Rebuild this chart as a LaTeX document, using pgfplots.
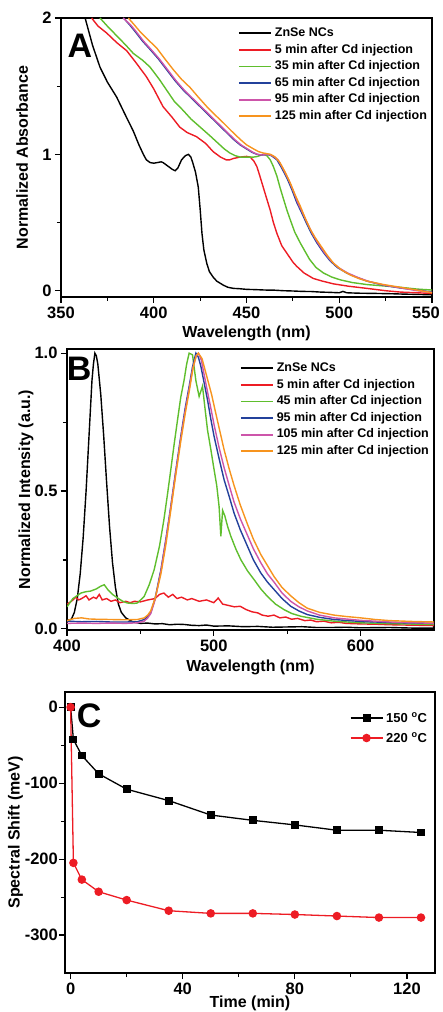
\documentclass[border=0pt]{standalone}
\usepackage{fontspec}
\setmainfont{Liberation Sans}
\usepackage{pgfplots}
\pgfplotsset{compat=1.18}

\definecolor{cred}{RGB}{237,28,36}
\definecolor{cgreen}{RGB}{95,190,45}
\definecolor{cblue}{RGB}{35,65,155}
\definecolor{cmag}{RGB}{205,85,170}
\definecolor{corange}{RGB}{247,148,30}

\pgfplotsset{
  panel/.style={
    scale only axis,
    axis line style={line width=1.3pt},
    every tick/.style={black, line width=1.1pt},
    tick align=outside,
    xtick pos=bottom, ytick pos=left,
    major tick length=6pt, minor tick length=4pt,
    ticklabel style={font=\bfseries\fontsize{16.5}{17}\selectfont},
    label style={font=\bfseries\fontsize{16}{17}\selectfont},
    legend cell align=left,
    every axis plot/.append style={line width=1.4pt},
  },
  lineleg/.style={
    legend image code/.code={\draw[##1, line width=1.9pt] (0pt,0pt) -- (32pt,0pt);},
    legend style={draw=none, fill=none, inner sep=0pt, outer sep=0pt,
      row sep=0pt, column sep=3pt,
      nodes={inner sep=0pt, text height=11.6pt, text depth=5pt,
        font=\bfseries\fontsize{12.5}{13}\selectfont}},
  },
}

\begin{document}
\begin{tikzpicture}
\useasboundingbox (0,0) rectangle (442pt,1012pt);

% ---------- panel A ----------
\begin{axis}[panel, lineleg,
  at={(61pt,715pt)}, anchor=south west,
  width=371pt, height=279pt,
  xmin=350, xmax=550, ymin=-0.046, ymax=2,
  xtick={350,400,450,500,550},
  xticklabels={350,400,450,500,\makebox[0pt]{\hspace{-12pt}550}},
  minor xtick={375,425,475,525},
  ytick={0,1,2}, yticklabels={0,1,2},
  minor ytick={0.5,1.5},
  xlabel={Wavelength (nm)}, ylabel={Normalized Absorbance},
  xlabel style={at={(axis description cs:0.5,-0.129)}, anchor=center},
  ylabel style={at={(axis description cs:-0.105,0.5)}, anchor=center},
  legend style={at={(axis description cs:0.477,0.975)}, anchor=north west},
]
\addplot[black] coordinates {
(363,2.0)(367,1.8)(371,1.64)(375,1.53)(380,1.42)(385,1.28)(389,1.17)(392,1.07)
(394.4,1.0)(396,0.96)(398,0.94)(400,0.935)(402,0.94)(404,0.945)(405,0.94)(406.5,0.925)
(408,0.91)(410,0.89)(411.5,0.88)(413,0.9)(415,0.96)(417,0.99)(418.7,1.0)(420,0.98)
(421,0.94)(422.5,0.87)(424,0.76)(425,0.6)(426,0.42)(427,0.3)(428.6,0.2)(430,0.14)
(432,0.1)(434,0.07)(437.6,0.04)(440,0.025)(443,0.017)(446,0.015)(450,0.01)(455,0.008)
(460,0.005)(465,0.004)(470,0.0)(475,-0.002)(480,-0.005)(485,-0.006)(490,-0.01)
(495,-0.012)(500,-0.015)(502,-0.005)(504,-0.015)(510,-0.018)(520,-0.02)(528,-0.022)
(535,-0.025)(542,-0.027)(550,-0.03)};
\addplot[cred] coordinates {
(366.5,2.0)(370,1.94)(374.6,1.89)(380,1.82)(385.4,1.76)(390,1.68)(396,1.57)(400,1.48)
(405,1.35)(410,1.27)(414,1.2)(418,1.16)(423,1.13)(428,1.08)(432,1.02)(436,0.98)
(439,0.96)(441,0.96)(443,0.97)(446.6,0.98)(450,0.985)(452,0.98)(454,0.95)(455.6,0.91)
(457,0.85)(459,0.76)(461,0.67)(462.8,0.59)(464.5,0.5)(466.4,0.42)(469,0.33)(472,0.27)
(475,0.21)(477,0.18)(481,0.13)(486,0.09)(491,0.07)(497,0.05)(505,0.033)(515,0.017)
(525,0.0)(533,-0.01)(542,-0.015)(550,-0.02)};
\addplot[cgreen] coordinates {
(371,2.0)(375,1.94)(380,1.87)(385,1.8)(389,1.74)(394,1.69)(398,1.64)(403,1.55)
(407,1.47)(411,1.39)(416,1.32)(420,1.26)(425,1.2)(430,1.14)(434,1.09)(438,1.04)
(441,1.01)(444,0.99)(446.6,0.98)(450,0.98)(453.8,0.98)(456,0.985)(459,1.0)(461,0.99)
(462.8,0.96)(464.5,0.91)(466.4,0.84)(468,0.76)(470,0.67)(471.8,0.59)(473.6,0.52)
(476,0.43)(479,0.35)(481.5,0.29)(484,0.23)(487.5,0.17)(491.5,0.13)(496,0.1)
(500.5,0.08)(507,0.06)(515,0.045)(524,0.035)(533,0.025)(542,0.012)(550,0.005)};
\addplot[cblue] coordinates {
(383.7,2.0)(387,1.95)(390,1.9)(394,1.83)(398,1.77)(402.5,1.7)(407,1.62)(411.5,1.54)
(416,1.47)(420.5,1.41)(425,1.35)(429.5,1.29)(434,1.23)(438.5,1.17)(443,1.11)
(446.5,1.07)(450,1.04)(453,1.015)(455.6,1.0)(458,0.995)(461,1.0)(463.5,0.99)
(466.4,0.96)(469,0.9)(472,0.82)(474.5,0.74)(477,0.65)(479.8,0.57)(482.5,0.49)
(485,0.42)(488,0.35)(491.5,0.28)(495,0.22)(499,0.17)(504,0.13)(509,0.1)(515,0.07)
(524,0.04)(533,0.02)(542,0.005)(550,-0.01)};
\addplot[cmag] coordinates {
(383.5,2.0)(387.5,1.95)(390.5,1.9)(394.5,1.83)(398.5,1.77)(403,1.7)(407.5,1.62)(412,1.54)
(416.5,1.47)(421,1.41)(425.5,1.35)(430,1.29)(434.5,1.23)(439,1.17)(443.5,1.11)
(447,1.07)(450.5,1.04)(453.5,1.015)(456,1.0)(458.5,0.995)(461.5,1.0)(464,0.99)
(467,0.96)(469.5,0.9)(472.5,0.82)(475,0.74)(477.5,0.65)(480.3,0.57)(483,0.49)
(485.5,0.42)(488.5,0.35)(492,0.28)(495.5,0.22)(499.5,0.17)(504.5,0.13)(509.5,0.1)
(515.5,0.07)(524.5,0.04)(533.5,0.02)(542,0.0)(550,-0.012)};
\addplot[corange] coordinates {
(386.3,2.0)(389.5,1.95)(392.6,1.9)(397,1.84)(401.6,1.78)(406,1.7)(410.6,1.62)(415,1.55)
(419.6,1.49)(424,1.42)(428.6,1.35)(433,1.29)(437.6,1.23)(442,1.17)(446.6,1.11)
(450,1.07)(453.8,1.04)(456.5,1.02)(459,1.01)(461,1.005)(463,1.0)(465.5,0.98)
(468,0.94)(470.8,0.87)(473.6,0.79)(476.3,0.7)(479,0.62)(481.7,0.53)(484.4,0.45)
(487,0.39)(490,0.33)(493.5,0.26)(497,0.2)(501.5,0.15)(506,0.115)(510.5,0.09)
(515,0.07)(524,0.045)(533,0.025)(542,0.005)(550,-0.015)};
\legend{ZnSe NCs, 5 min after Cd injection, 35 min after Cd injection,
  65 min after Cd injection, 95 min after Cd injection, 125 min after Cd injection}
\node[font=\bfseries\fontsize{34}{34}\selectfont, anchor=center]
  at (axis description cs:0.051,0.9) {A};
\end{axis}

% ---------- panel B ----------
\begin{axis}[panel, lineleg,
  at={(67pt,382pt)}, anchor=south west,
  width=367pt, height=281pt,
  xmin=400, xmax=650, ymin=-0.004, ymax=1.015,
  xtick={400,500,600}, xticklabels={400,500,600},
  minor xtick={450,550},
  ytick={0,0.5,1}, yticklabels={0.0,0.5,1.0},
  minor ytick={0.25,0.75},
  xlabel={Wavelength (nm)}, ylabel={Normalized Intensity (a.u.)},
  xlabel style={at={(axis description cs:0.5,-0.132)}, anchor=center},
  ylabel style={at={(axis description cs:-0.112,0.5)}, anchor=center},
  legend style={at={(axis description cs:0.471,0.961)}, anchor=north west},
]
\addplot[black] coordinates {
(400,0.03)(403,0.035)(405,0.06)(407,0.11)(409,0.2)(411,0.33)(413,0.5)(415,0.7)
(417,0.9)(418,0.96)(419,1.0)(420,0.99)(421,0.96)(423,0.85)(425,0.7)(427,0.53)
(429,0.37)(431,0.24)(433,0.15)(435,0.09)(437,0.06)(440,0.04)(445,0.025)(450,0.02)
(455,0.021)(460,0.018)(465,0.019)(470,0.015)(475,0.017)(480,0.016)(485,0.013)
(490,0.012)(495,0.014)(500,0.01)(510,0.011)(520,0.008)(530,0.009)(540,0.006)
(550,0.007)(560,0.008)(570,0.005)(580,0.005)(590,0.006)(600,0.004)(620,0.005)
(635,0.003)(650,0.003)};
\addplot[cred] coordinates {
(400,0.09)(403,0.1)(406,0.115)(408,0.105)(410,0.11)(413,0.12)(415,0.105)(418,0.115)
(420,0.11)(422,0.125)(424,0.105)(427,0.11)(430,0.1)(433,0.105)(436,0.095)(440,0.1)
(443,0.095)(446,0.1)(450,0.098)(455,0.105)(460,0.11)(463,0.125)(466,0.13)(469,0.115)
(472,0.125)(475,0.11)(478,0.115)(482,0.105)(485,0.11)(490,0.1)(495,0.105)(500,0.095)
(503,0.112)(506,0.09)(510,0.085)(514,0.08)(518,0.082)(522,0.07)(526,0.062)(530,0.058)
(533,0.05)(537,0.046)(541,0.05)(545,0.04)(549,0.043)(553,0.035)(557,0.038)(562,0.03)
(566,0.032)(570,0.026)(575,0.028)(580,0.022)(585,0.024)(590,0.02)(600,0.018)
(610,0.017)(620,0.015)(630,0.014)(640,0.013)(650,0.012)};
\addplot[cgreen] coordinates {
(400,0.08)(404,0.11)(409.5,0.13)(413,0.135)(416,0.137)(420,0.145)(423,0.155)
(425.4,0.16)(427.7,0.143)(431,0.125)(434.5,0.112)(438,0.1)(441,0.094)(445,0.092)
(448,0.094)(452.6,0.118)(456,0.16)(459.4,0.215)(463,0.3)(466,0.396)(468.5,0.49)
(470.7,0.577)(473,0.67)(475.3,0.758)(477.5,0.84)(479.8,0.903)(481.5,0.96)(483.2,1.0)
(485.5,0.994)(487.8,0.9)(490,0.843)(492.3,0.88)(494,0.8)(495.7,0.722)(498,0.65)
(500.2,0.577)(502,0.52)(503.6,0.444)(504.8,0.336)(506,0.43)(507.5,0.41)(509.5,0.37)
(511.6,0.336)(515,0.29)(518.4,0.251)(523,0.21)(527.4,0.179)(532,0.145)(536.5,0.118)
(542,0.09)(547.8,0.07)(553,0.056)(559.2,0.046)(570,0.035)(581.9,0.028)(600,0.022)
(620,0.019)(650,0.016)};
\addplot[cblue] coordinates {
(400,0.028)(410,0.026)(420,0.027)(430,0.025)(440,0.025)(448,0.026)(452.6,0.034)
(455,0.045)(457,0.058)(460,0.11)(464,0.215)(467.5,0.33)(470.7,0.444)(474,0.57)
(477.5,0.698)(480.5,0.8)(483.2,0.879)(485.5,0.95)(487.8,1.0)(489.5,0.985)(491.2,0.952)
(493.5,0.89)(495.7,0.831)(498,0.76)(500.2,0.698)(503.5,0.62)(507,0.541)(510.5,0.48)
(513.8,0.42)(518,0.36)(522.9,0.3)(527,0.25)(532,0.203)(536.5,0.17)(541,0.143)
(546.5,0.11)(552.4,0.082)(558,0.065)(563.7,0.052)(572,0.042)(581.9,0.034)(600,0.027)
(620,0.023)(650,0.02)};
\addplot[cmag] coordinates {
(400,0.02)(410,0.021)(420,0.02)(430,0.021)(440,0.02)(448,0.022)(452.6,0.028)
(455,0.04)(457,0.055)(460,0.105)(464,0.21)(467.5,0.325)(470.7,0.44)(474,0.565)
(477.5,0.69)(480.5,0.79)(483.2,0.87)(485.5,0.94)(488,0.99)(489.5,1.0)(491.5,0.975)
(493.5,0.92)(495.7,0.86)(498,0.8)(500.2,0.74)(503.5,0.66)(507,0.585)(510.5,0.52)
(513.8,0.46)(518,0.4)(522.9,0.34)(527,0.29)(532,0.24)(536.5,0.2)(541,0.17)
(546.5,0.13)(552.4,0.1)(558,0.08)(563.7,0.065)(572,0.05)(581.9,0.04)(600,0.031)
(620,0.025)(650,0.02)};
\addplot[corange] coordinates {
(400,0.03)(405,0.038)(410,0.04)(415,0.036)(420,0.035)(430,0.034)(440,0.033)
(448,0.034)(452.6,0.04)(455,0.05)(457,0.065)(460,0.11)(464,0.2)(467.5,0.31)
(470.7,0.43)(474,0.555)(477.5,0.68)(480.5,0.78)(483.2,0.86)(486,0.95)(488,0.99)
(489.5,1.0)(492,0.98)(494,0.94)(496,0.9)(498.5,0.85)(501,0.79)(504,0.72)(507,0.65)
(510.5,0.58)(513.8,0.52)(518,0.45)(522.9,0.38)(527,0.325)(532,0.27)(536.5,0.23)
(541,0.19)(546.5,0.15)(552.4,0.12)(558,0.095)(563.7,0.075)(572,0.06)(581.9,0.05)
(590,0.045)(600,0.04)(610,0.034)(620,0.03)(635,0.027)(650,0.025)};
\legend{ZnSe NCs, 5 min after Cd injection, 45 min after Cd injection,
  95 min after Cd injection, 105 min after Cd injection, 125 min after Cd injection}
\node[font=\bfseries\fontsize{34}{34}\selectfont, anchor=center]
  at (axis description cs:0.033,0.929) {B};
\end{axis}

% ---------- panel C ----------
\begin{axis}[panel,
  at={(65pt,39pt)}, anchor=south west,
  width=370pt, height=281pt,
  xmin=-2, xmax=130, ymin=-350, ymax=20,
  xtick={0,40,80,120}, xticklabels={0,40,80,120},
  minor xtick={20,60,100},
  ytick={-300,-200,-100,0}, yticklabels={-300,-200,-100,0},
  minor ytick={-250,-150,-50},
  yticklabel style={inner sep=1pt},
  xlabel={Time (min)}, ylabel={Spectral Shift (meV)},
  xlabel style={at={(axis description cs:0.5,-0.107)}, anchor=center},
  ylabel style={at={(axis description cs:-0.134,0.5)}, anchor=center},
  legend image code/.code={\draw[#1, mark repeat=2, mark phase=2]
    plot coordinates {(0pt,0pt) (16pt,0pt) (32pt,0pt)};},
  legend style={draw=none, fill=none, inner sep=0pt, outer sep=0pt,
    row sep=0pt, column sep=3pt,
    nodes={inner sep=0pt, text height=14pt, text depth=6pt,
      font=\bfseries\fontsize{13}{14}\selectfont},
    at={(axis description cs:0.77,0.943)}, anchor=north west},
]
\addplot[black, line width=1.3pt, mark=square*, mark size=3.3pt] coordinates {
(0,0)(1,-42.5)(4,-63.6)(10,-87.7)(20,-108)(35,-123)(50,-142)(65,-149)(80,-155)
(95,-162)(110,-162)(125,-165)};
\addplot[cred, line width=1.3pt, mark=*, mark size=3.6pt] coordinates {
(0,0)(1,-205)(4,-227)(10,-243)(20,-254)(35,-268)(50,-271.5)(65,-271.5)(80,-273)
(95,-275)(110,-277)(125,-277)};
\legend{150~\textsuperscript{o}C, 220~\textsuperscript{o}C}
\node[font=\bfseries\fontsize{34}{34}\selectfont, anchor=center]
  at (axis description cs:0.065,0.915) {C};
\end{axis}
\end{tikzpicture}
\end{document}
